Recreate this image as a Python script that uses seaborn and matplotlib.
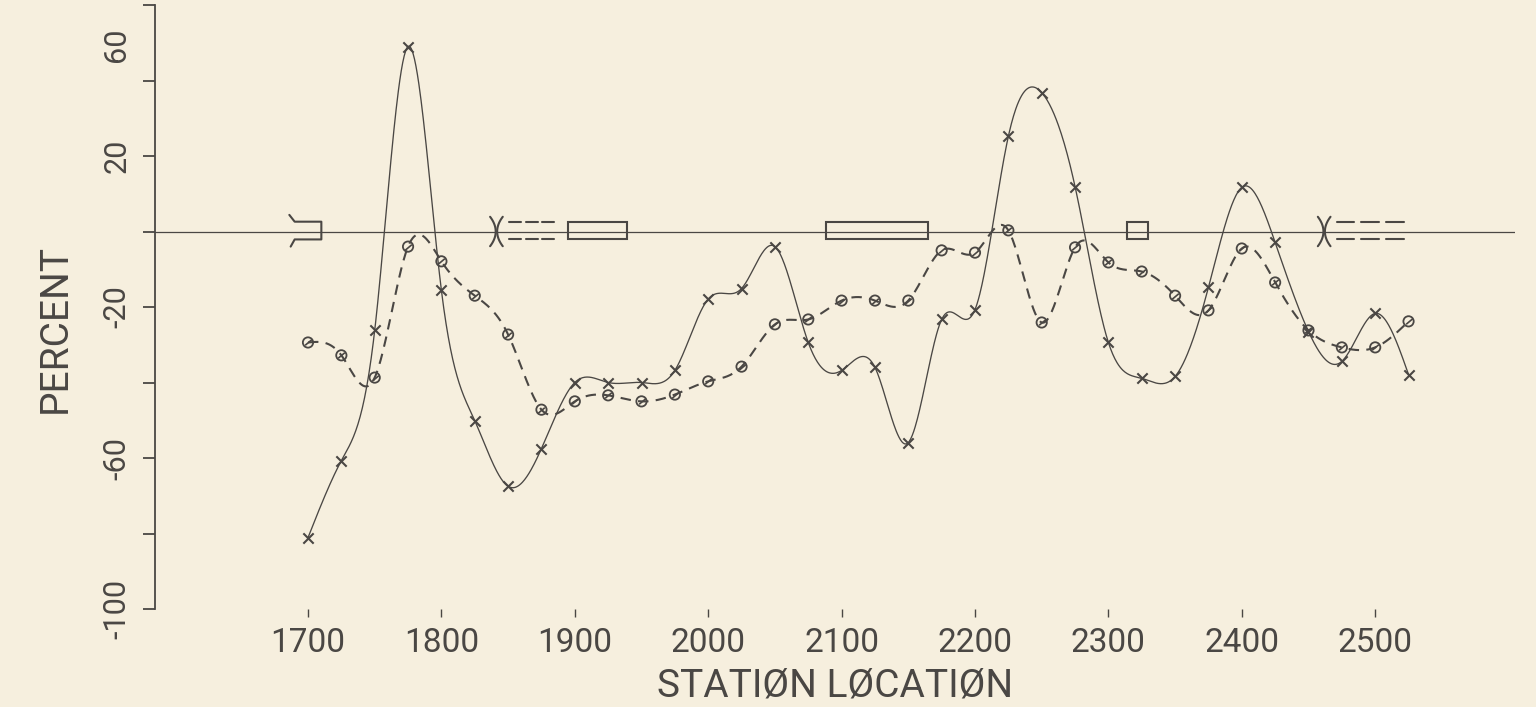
import numpy as np
import pandas as pd
import seaborn as sns
import matplotlib
matplotlib.use("Agg")
import matplotlib.pyplot as plt
from matplotlib.markers import MarkerStyle
from matplotlib.transforms import Affine2D, ScaledTranslation
from matplotlib.patches import Rectangle

# ---------------- data ----------------
stations = list(range(1700, 2526, 25))
series_x = [-81.1, -60.7, -26.2, 49.0, -15.6, -50.1, -67.5, -57.5, -40.0, -40.0,
            -40.0, -36.8, -17.9, -15.1, -4.0, -29.4, -36.8, -36.0, -55.9, -23.3,
            -20.7, 25.2, 36.8, 11.9, -29.4, -38.9, -38.4, -14.8, 11.7, -2.9,
            -26.5, -34.4, -21.7, -37.9]
series_o = [-29.4, -32.8, -38.7, -4.0, -7.9, -17.0, -27.3, -47.2, -45.0, -43.4,
            -45.0, -43.2, -39.7, -35.8, -24.6, -23.3, -18.3, -18.3, -18.3, -5.0,
            -5.6, 0.3, -24.1, -4.2, -8.2, -10.6, -17.0, -20.9, -4.5, -13.5,
            -26.2, -30.7, -30.7, -23.8]
x_ticks = [1700, 1800, 1900, 2000, 2100, 2200, 2300, 2400, 2500]
y_ticks = [-100, -80, -60, -40, -20, 0, 20, 40, 60]
y_tick_labels = ["-100", "", "-60", "", "-20", "", "20", "", "60"]
# structure symbols along the zero line (station extents)
boxes = [(1895, 1939), (2088, 2165), (2314, 2330)]
culverts = [(1686, 1710)]
openings = [(1836.5, 1851, 1888), (2457, 2471, 2527)]

BG = "#F6EFDE"
INK = "#4A4744"

sns.set_theme(style="white")
plt.rcParams["font.family"] = ["Roboto", "DejaVu Sans"]

fig = plt.figure(figsize=(15.36, 7.07), dpi=100, facecolor=BG)
ax = fig.add_axes([155 / 1536, 1 - 609 / 707, (1515 - 155) / 1536, (609 - 5) / 707])
ax.set_facecolor(BG)


def natural_spline(x, y, xs):
    x = np.asarray(x, float)
    y = np.asarray(y, float)
    n = len(x)
    h = np.diff(x)
    A = np.zeros((n, n))
    b = np.zeros(n)
    A[0, 0] = A[-1, -1] = 1.0
    for i in range(1, n - 1):
        A[i, i - 1] = h[i - 1]
        A[i, i] = 2 * (h[i - 1] + h[i])
        A[i, i + 1] = h[i]
        b[i] = 6 * ((y[i + 1] - y[i]) / h[i] - (y[i] - y[i - 1]) / h[i - 1])
    M = np.linalg.solve(A, b)
    idx = np.clip(np.searchsorted(x, xs) - 1, 0, n - 2)
    x0, x1 = x[idx], x[idx + 1]
    hh = x1 - x0
    return (M[idx] * (x1 - xs) ** 3 / (6 * hh) + M[idx + 1] * (xs - x0) ** 3 / (6 * hh)
            + (y[idx] / hh - M[idx] * hh / 6) * (x1 - xs)
            + (y[idx + 1] / hh - M[idx + 1] * hh / 6) * (xs - x0))


xs = np.linspace(stations[0], stations[-1], 1500)
curve = pd.DataFrame({"station": xs,
                      "x": natural_spline(stations, series_x, xs),
                      "o": natural_spline(stations, series_o, xs)})
pts = pd.DataFrame({"station": stations, "x": series_x, "o": series_o})

# zero line
ax.axhline(0, color=INK, lw=0.9, zorder=1)

sns.lineplot(data=curve, x="station", y="x", ax=ax, color=INK, lw=0.95,
             estimator=None, sort=False)
sns.lineplot(data=curve, x="station", y="o", ax=ax, color=INK, lw=1.5,
             estimator=None, sort=False, linestyle=(0, (5, 3.5)))

sns.scatterplot(data=pts, x="station", y="x", ax=ax, marker="x", s=55,
                color=INK, linewidth=1.5, zorder=5)
c = sns.scatterplot(data=pts, x="station", y="o", ax=ax, marker="o", s=55,
                    color=INK, linewidth=1.3, zorder=5)
c.collections[-1].set_facecolor("none")
c.collections[-1].set_edgecolor(INK)
slash = MarkerStyle("_", transform=Affine2D().rotate_deg(40))
sns.scatterplot(data=pts, x="station", y="o", ax=ax, marker=slash, s=40,
                color=INK, linewidth=1.2, zorder=6)

# structure symbols
top, bot = 2.6, -2.1
for a, b_ in boxes:
    ax.add_patch(Rectangle((a, bot), b_ - a, top - bot, fill=False,
                           edgecolor=INK, lw=1.5, zorder=4))
for a, b_ in culverts:
    ax.plot([a, a + 4, b_, b_, a + 4, a + 1], [4.4, top, top, bot, bot, -4.0],
            color=INK, lw=1.5, zorder=4)
for a, d0, d1 in openings:
    t = np.linspace(-1, 1, 40)
    yy = 3.9 * t
    ax.plot(a + 4.2 * (1 - t ** 2), yy, color=INK, lw=1.5, zorder=4)
    ax.plot(a + 9.5 - 4.2 * (1 - t ** 2), yy, color=INK, lw=1.5, zorder=4)
    seg = (d1 - d0) / 3.0
    for k in range(3):
        s0 = d0 + k * seg
        for yv in (top, bot):
            ax.plot([s0, s0 + seg * 0.72], [yv, yv], color=INK, lw=1.5, zorder=4)

# axes
ax.set_xlim(1585.3, 2604.8)
ax.set_ylim(-100, 60)
ax.set_xticks(x_ticks)
ax.set_xticklabels([str(v) for v in x_ticks])
ax.set_yticks(y_ticks)
ax.set_yticklabels(y_tick_labels, rotation=90, va="center")
for s in ["top", "right", "bottom"]:
    ax.spines[s].set_visible(False)
ax.spines["left"].set_color(INK)
ax.spines["left"].set_linewidth(1.3)
ax.tick_params(axis="x", direction="out", length=6, width=1.0, color=INK,
               pad=7, labelsize=24, labelcolor=INK, bottom=True)
ax.tick_params(axis="y", direction="out", length=9, width=1.3, color=INK,
               pad=8, labelsize=22, labelcolor=INK, left=True)
ax.set_xlabel("STATIØN LØCATIØN", fontsize=28, color=INK)
ax.set_ylabel("PERCENT", fontsize=28, color=INK)
ax.xaxis.set_label_coords(0.5, -0.127)
ax.yaxis.set_label_coords(-0.0735, 0.465)
ax.xaxis.label.set_va("center")
ax.yaxis.label.set_va("center")
ax.grid(False)

# move the top "60" label down, as in the plot
lab = ax.yaxis.get_major_ticks()[-1].label1
lab.set_transform(lab.get_transform() + ScaledTranslation(0, -0.40, fig.dpi_scale_trans))

fig.savefig("out.png", dpi=100, facecolor=BG)
